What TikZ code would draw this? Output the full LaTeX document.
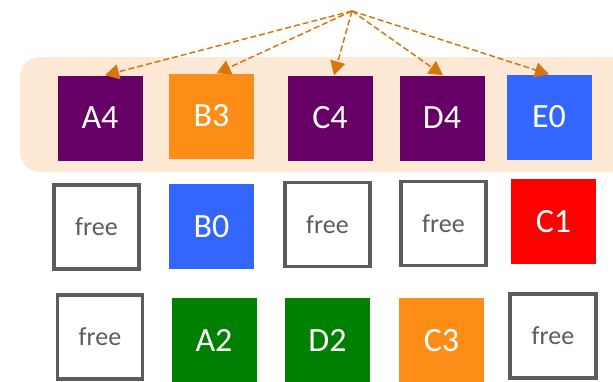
\documentclass[tikz,border=0pt]{standalone}
\usepackage{fontspec}
\setmainfont{Carlito}
\usepackage{tikz}
\usepackage{xcolor}
\usetikzlibrary{arrows.meta}
\definecolor{cellpurple}{HTML}{660066}
\definecolor{cellorange}{HTML}{FD8D17}
\definecolor{cellblue}{HTML}{3366FF}
\definecolor{cellred}{HTML}{FF0000}
\definecolor{cellgreen}{HTML}{008000}
\definecolor{bandpeach}{HTML}{FDE9D5}
\definecolor{ptrcol}{HTML}{D6760F}
\definecolor{freegray}{HTML}{5C5C5C}
\tikzset{
    cell-box/.style = {rectangle, inner sep=0pt, minimum width=85pt, minimum height=85pt, text=white, font=\fontsize{34}{34}\selectfont},
    free-box/.style = {rectangle, inner sep=0pt, minimum width=85pt, minimum height=84pt, draw=freegray, line width=3.6pt, fill=white, text=freegray, font=\fontsize{26}{26}\selectfont},
    ptr-arrow/.style = {draw=ptrcol, line width=1.5pt, dash pattern=on 6pt off 3pt, -{Triangle[length=14pt,width=15pt]}},
}

\begin{document}
\begin{tikzpicture}[x=1pt,y=-1pt]
\useasboundingbox (0,0) rectangle (613,381);
\fill[bandpeach, rounded corners=20pt] (20,57) rectangle (660,172);

% first row
\node[cell-box, fill=cellpurple] (A4) at (100,118) {A4};
\node[cell-box, fill=cellorange] (B3) at (211.5,116) {B3};
\node[cell-box, fill=cellpurple] (C4) at (330,118) {C4};
\node[cell-box, fill=cellpurple] (D4) at (442,118) {D4};
\node[cell-box, fill=cellblue] (E0) at (549,117) {E0};

% second row
\node[free-box] (free1) at (96.5,227) {free};
\node[cell-box, fill=cellblue] (B0) at (211.5,226.5) {B0};
\node[free-box] (free2) at (327.5,224.5) {free};
\node[free-box] (free3) at (443.5,223.5) {free};
\node[cell-box, fill=cellred] (C1) at (553.5,221.5) {C1};

% third row
\node[free-box] (free4) at (100,337) {free};
\node[cell-box, fill=cellgreen] (A2) at (214,340.5) {A2};
\node[cell-box, fill=cellgreen] (D2) at (327.5,340.5) {D2};
\node[cell-box, fill=cellorange] (C3) at (441.5,340.5) {C3};
\node[free-box, minimum width=86pt] (free5) at (553,336) {free};

\coordinate (src) at (352,11);
\draw[ptr-arrow] (src) -- ([xshift=5pt]A4.north);
\draw[ptr-arrow] (src) -- ([xshift=5pt]B3.north);
\draw[ptr-arrow] (src) -- ([xshift=4pt]C4.north);
\draw[ptr-arrow] (src) -- ([xshift=1pt]D4.north);
\draw[ptr-arrow] (src) -- (E0.north);
\end{tikzpicture}
\end{document}
